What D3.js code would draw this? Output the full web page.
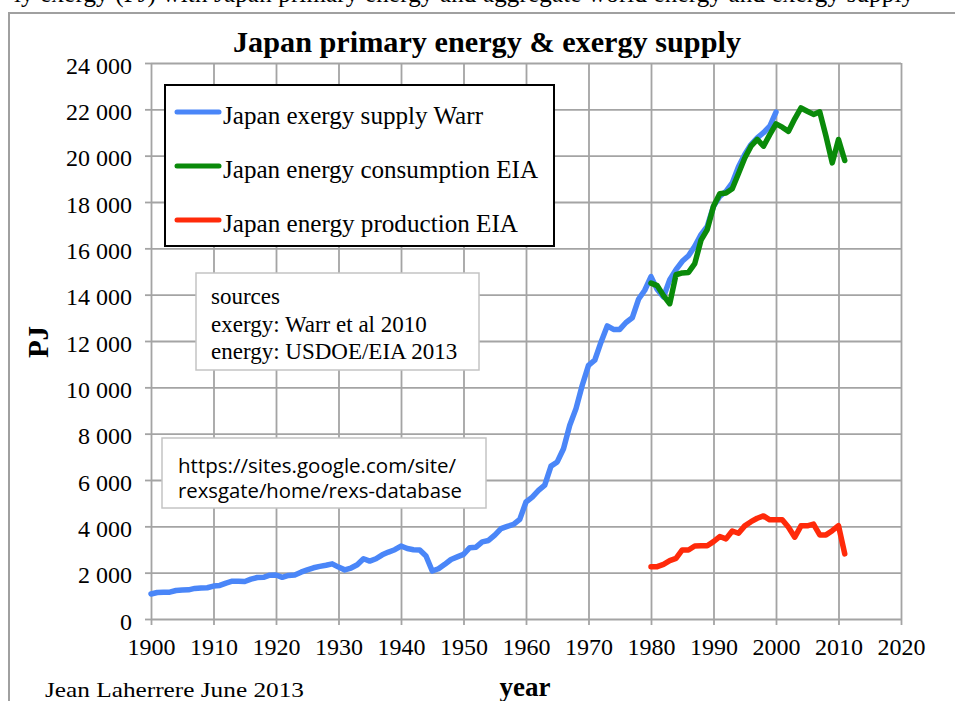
<!DOCTYPE html>
<html>
<head>
<meta charset="utf-8">
<script src="https://cdn.jsdelivr.net/npm/d3@7"></script>
<style>
  body { margin: 0; background: #fff; }
  svg { display: block; }
  .serif { font-family: "Liberation Serif", "Times New Roman", serif; }
  .grid line { stroke: #a4a4a4; stroke-width: 1.8; }
  .grid path { display: none; }
  .axis path { display: none; }
  .axis line { stroke: #a4a4a4; stroke-width: 1.8; }
  .axis text { font-family: "Liberation Serif", serif; font-size: 24px; fill: #000; }
  .series { fill: none; stroke-width: 5.5; stroke-linejoin: round; stroke-linecap: round; }
</style>
</head>
<body>
<svg class="chart"></svg>
<script>
var width = 955, height = 701;

// year axes
var exergyYears = d3.range(1900, 2001);
var eiaYears = d3.range(1980, 2012);

// Japan exergy supply (Warr), PJ, 1900-2000
var exergyWarr = [
  1080, 1145, 1150, 1160, 1230, 1250, 1260, 1320, 1340, 1350,
  1420, 1450, 1550, 1630, 1630, 1620, 1720, 1790, 1800, 1890,
  1900, 1800, 1880, 1900, 2020, 2120, 2210, 2270, 2320, 2380,
  2240, 2120, 2200, 2340, 2600, 2500, 2600, 2770, 2890, 2990,
  3150, 3040, 2990, 2980, 2720, 2070, 2170, 2360, 2570, 2680,
  2790, 3080, 3100, 3330, 3390, 3620, 3900, 4000, 4080, 4300,
  5050, 5260, 5550, 5780, 6600, 6780, 7350, 8360, 9080, 10090,
  10950, 11170, 11950, 12650, 12500, 12500, 12800, 13000, 13800, 14190,
  14780, 14220, 13900, 14650, 15080, 15440, 15680, 16090, 16590, 16950,
  17810, 18250, 18460, 18820, 19520, 20050, 20480, 20770, 20990, 21270,
  21880
];

// Japan energy consumption (EIA), PJ, 1980-2011
var consumptionEIA = [
  14500, 14390, 13960, 13610, 14860, 14940, 14960, 15340, 16350, 16810,
  17820, 18360, 18390, 18570, 19230, 19900, 20410, 20700, 20410, 20910,
  21370, 21230, 21050, 21590, 22060, 21920, 21780, 21890, 20840, 19690,
  20700, 19790
];

// Japan energy production (EIA), PJ, 1980-2011
var productionEIA = [
  2260, 2260, 2360, 2520, 2620, 2980, 2980, 3150, 3160, 3160,
  3340, 3560, 3460, 3800, 3700, 4020, 4200, 4350, 4450, 4280,
  4280, 4280, 3960, 3530, 4020, 4020, 4100, 3630, 3630, 3810,
  4030, 2810
];

var xTicks = d3.range(1900, 2021, 10);
var yTicks = d3.range(0, 24001, 2000);

var seriesNames = ["Japan exergy supply Warr", "Japan energy consumption EIA", "Japan energy production EIA"];
var seriesColors = ["#4a86f8", "#0a8a0a", "#ff2a0a"];
var legendWidths = [260, 315, 295];
var sourceLines = ["sources", "exergy: Warr et al 2010", "energy: USDOE/EIA 2013"];
var urlLines = ["https://sites.google.com/site/", "rexsgate/home/rexs-database"];
var urlWidths = [278, 284];

var x = d3.scaleLinear().domain([1900, 2020]).range([151, 901]);
var y = d3.scaleLinear().domain([0, 24000]).range([619, 63]);

var fmt = d3.formatLocale({ decimal: ".", thousands: "\u00a0", grouping: [3], currency: ["", ""] }).format(",");

var svg = d3.select(".chart")
  .attr("width", width)
  .attr("height", height);

// outer frame, cut at the right and bottom
svg.append("path")
  .attr("d", "M9,701 V13 H955")
  .attr("fill", "none")
  .attr("stroke", "#a0a0a0")
  .attr("stroke-width", 2);

// previous caption line, mostly cut off
svg.append("text")
  .attr("class", "serif")
  .attr("x", 14).attr("y", 2)
  .attr("font-size", 25)
  .attr("textLength", 900)
  .text("ly exergy (PJ) with Japan primary energy and aggregate world energy and exergy supply");

// grid
svg.append("g")
  .attr("class", "grid")
  .attr("transform", "translate(0,619)")
  .call(d3.axisBottom(x).tickValues(xTicks).tickSize(-556).tickFormat(""));
svg.append("g")
  .attr("class", "grid")
  .attr("transform", "translate(151,0)")
  .call(d3.axisLeft(y).tickValues(yTicks).tickSize(-750).tickFormat(""));

// axes
var xAxis = svg.append("g")
  .attr("class", "axis")
  .attr("transform", "translate(0,619)")
  .call(d3.axisBottom(x).tickValues(xTicks).tickSize(6).tickFormat(d3.format("d")));
xAxis.selectAll("text").attr("dy", null).attr("y", 36);

var yAxis = svg.append("g")
  .attr("class", "axis")
  .attr("transform", "translate(151,0)")
  .call(d3.axisLeft(y).tickValues(yTicks).tickSize(6).tickPadding(13).tickFormat(fmt));
yAxis.selectAll("text").attr("dy", "0.42em");

// series
var line = d3.line()
  .x(function(d) { return x(d[0]); })
  .y(function(d) { return y(d[1]); });

var seriesData = [
  d3.zip(exergyYears, exergyWarr),
  d3.zip(eiaYears, consumptionEIA),
  d3.zip(eiaYears, productionEIA)
];

seriesData.forEach(function(data, i) {
  svg.append("path")
    .datum(data)
    .attr("class", "series")
    .attr("stroke", seriesColors[i])
    .attr("d", line);
});

// legend
svg.append("rect")
  .attr("x", 165).attr("y", 85)
  .attr("width", 389).attr("height", 161)
  .attr("fill", "#fff")
  .attr("stroke", "#000")
  .attr("stroke-width", 2);

seriesNames.forEach(function(name, i) {
  var ly = 112 + i * 54;
  svg.append("line")
    .attr("x1", 177).attr("x2", 219)
    .attr("y1", ly).attr("y2", ly)
    .attr("stroke", seriesColors[i])
    .attr("stroke-width", 5)
    .attr("stroke-linecap", "round");
  svg.append("text")
    .attr("class", "serif")
    .attr("x", 223).attr("y", ly + 12)
    .attr("font-size", 26)
    .attr("textLength", legendWidths[i])
    .attr("lengthAdjust", "spacingAndGlyphs")
    .text(name);
});

// sources box
svg.append("rect")
  .attr("x", 196).attr("y", 273)
  .attr("width", 283).attr("height", 97)
  .attr("fill", "#fff")
  .attr("stroke", "#c4c4c4")
  .attr("stroke-width", 1.5);
sourceLines.forEach(function(t, i) {
  svg.append("text")
    .attr("class", "serif")
    .attr("x", 211).attr("y", 304 + i * 27.5)
    .attr("font-size", 23)
    .text(t);
});

// url box
svg.append("rect")
  .attr("x", 162).attr("y", 438)
  .attr("width", 324).attr("height", 70)
  .attr("fill", "#fff")
  .attr("stroke", "#c4c4c4")
  .attr("stroke-width", 1.5);
urlLines.forEach(function(t, i) {
  svg.append("text")
    .attr("x", 178).attr("y", 473 + i * 25)
    .attr("font-family", "'Open Sans', sans-serif")
    .attr("font-size", 20)
    .attr("textLength", urlWidths[i])
    .attr("lengthAdjust", "spacingAndGlyphs")
    .text(t);
});

// title and axis labels
svg.append("text")
  .attr("class", "serif")
  .attr("x", 487).attr("y", 52)
  .attr("text-anchor", "middle")
  .attr("font-size", 29)
  .attr("font-weight", "bold")
  .attr("textLength", 508)
  .attr("lengthAdjust", "spacingAndGlyphs")
  .text("Japan primary energy & exergy supply");

svg.append("text")
  .attr("class", "serif")
  .attr("transform", "translate(48,342) rotate(-90)")
  .attr("text-anchor", "middle")
  .attr("font-size", 29)
  .attr("font-weight", "bold")
  .text("PJ");

svg.append("text")
  .attr("class", "serif")
  .attr("x", 525).attr("y", 696)
  .attr("text-anchor", "middle")
  .attr("font-size", 27)
  .attr("font-weight", "bold")
  .text("year");

svg.append("text")
  .attr("class", "serif")
  .attr("x", 45).attr("y", 697)
  .attr("font-size", 22)
  .attr("textLength", 259)
  .attr("lengthAdjust", "spacingAndGlyphs")
  .text("Jean Laherrere June 2013");
</script>
</body>
</html>
